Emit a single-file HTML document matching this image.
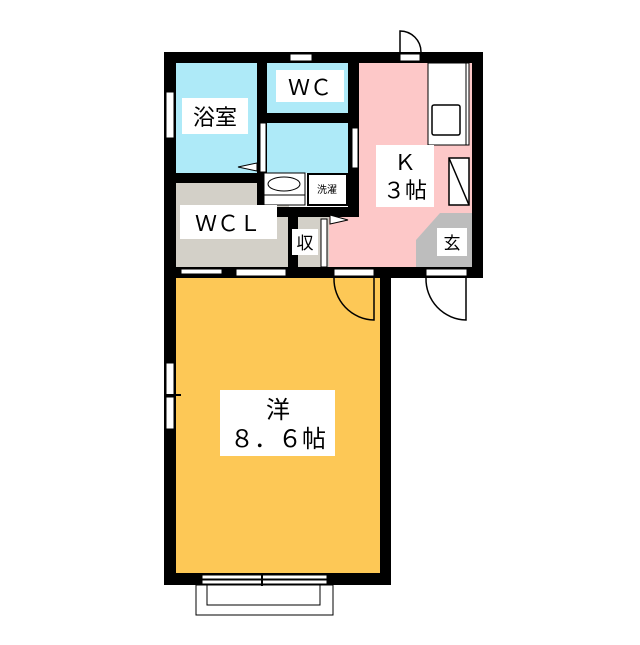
<!DOCTYPE html>
<html><head><meta charset="utf-8"><style>
html,body{margin:0;padding:0;background:#fff;}
svg text{font-family:"Liberation Sans","Noto Sans CJK JP",sans-serif;}
</style></head><body>
<svg width="640" height="640" viewBox="0 0 640 640" xmlns="http://www.w3.org/2000/svg">
<!-- fills -->
<rect x="176" y="63" width="82" height="111" fill="#aeeaf8"/>
<rect x="267" y="63" width="82" height="51" fill="#aeeaf8"/>
<rect x="267" y="123" width="82" height="50" fill="#aeeaf8"/>
<rect x="176" y="183" width="113" height="85" fill="#d3d0c8"/>
<rect x="298" y="217" width="32" height="51" fill="#d3d0c8"/>
<rect x="359" y="63" width="114" height="205" fill="#fdc8c8"/>
<rect x="329" y="215" width="32" height="53" fill="#fdc8c8"/>
<polygon points="416,240 440,213 473,213 473,268 416,268" fill="#bdbdbd"/>
<rect x="176" y="277" width="205" height="297" fill="#fdc856"/>
<!-- walls -->
<g fill="#000">
<rect x="164" y="52" width="319" height="11"/>
<rect x="164" y="52" width="12" height="533"/>
<rect x="472" y="52" width="11" height="226"/>
<rect x="164" y="267" width="319" height="11"/>
<rect x="380" y="267" width="11" height="318"/>
<rect x="164" y="573" width="227" height="12"/>
<rect x="257" y="63" width="10" height="154"/>
<rect x="176" y="173" width="91" height="10"/>
<rect x="348" y="63" width="11" height="154"/>
<rect x="267" y="113" width="82" height="10"/>
<rect x="257" y="207" width="102" height="10"/>
<rect x="288" y="207" width="10" height="61"/>
</g>
<!-- windows / openings -->
<g fill="#fff" stroke="#000" stroke-width="1">
<rect x="290" y="54" width="22" height="7"/>
<rect x="400" y="54" width="20" height="7"/>
<rect x="166" y="92" width="8" height="46"/>
<rect x="260" y="123" width="6" height="49"/>
<rect x="352" y="128" width="6" height="40"/>
<rect x="181" y="269" width="41" height="5"/>
<rect x="236" y="269" width="50" height="7"/>
<rect x="334" y="269" width="40" height="7"/>
<rect x="426" y="269" width="41" height="7"/>
<rect x="321" y="219" width="6" height="48"/>
<rect x="166" y="363" width="8" height="33"/>
<rect x="166" y="397" width="8" height="32"/>
<rect x="202" y="575" width="125" height="4"/>
<rect x="202" y="580" width="125" height="4"/>
<rect x="196" y="585" width="137" height="30"/>
<rect x="207" y="585" width="113" height="20"/>
</g>
<line x1="166" y1="395" x2="181" y2="395" stroke="#000" stroke-width="2"/>
<line x1="262" y1="573" x2="262" y2="586" stroke="#000" stroke-width="2"/>
<!-- doors -->
<g fill="none" stroke="#000" stroke-width="1.5">
<path d="M400,52 L400,31 A21,21 0 0 1 421,52"/>
<path d="M374,278 L374,320 A41,41 0 0 1 334,278"/>
<path d="M466,278 L466,320 A41,41 0 0 1 426,278"/>
</g>
<!-- door triangles -->
<polygon points="238,167 257,163 257,171" fill="#fff" stroke="#000"/>
<polygon points="348,220 330,215 330,224" fill="#fff" stroke="#000"/>
<!-- washroom fixtures -->
<rect x="264" y="173" width="41" height="32" fill="#fff" stroke="#000"/>
<ellipse cx="284" cy="184" rx="16" ry="7" fill="#fff" stroke="#000"/>
<line x1="264" y1="195" x2="305" y2="195" stroke="#000"/>
<rect x="308" y="174" width="39" height="31" fill="#fff" stroke="#000" stroke-width="2"/>
<text x="327" y="193" font-size="10" text-anchor="middle">洗濯</text>
<!-- kitchen -->
<rect x="428" y="63" width="41" height="82" fill="#fff" stroke="#000"/>
<line x1="466" y1="63" x2="466" y2="145" stroke="#000"/>
<rect x="432" y="105" width="28" height="30" fill="#fff" stroke="#000" stroke-width="1.5" rx="2"/>
<rect x="449" y="158" width="20" height="47" fill="#fff" stroke="#000" stroke-width="1.5"/>
<line x1="449" y1="158" x2="469" y2="205" stroke="#000" stroke-width="1.5"/>
<!-- labels -->
<rect x="182" y="98" width="66" height="36" fill="#fff"/>
<text x="215" y="125" font-size="22" text-anchor="middle">浴室</text>
<rect x="276" y="70" width="68" height="32" fill="#fff"/>
<text x="310" y="95" font-size="22" text-anchor="middle">ＷＣ</text>
<rect x="376" y="145" width="58" height="62" fill="#fff"/>
<text x="405" y="170" font-size="22" text-anchor="middle">Ｋ</text>
<text x="405" y="198" font-size="22" text-anchor="middle">３帖</text>
<rect x="180" y="205" width="97" height="34" fill="#fff"/>
<text x="228" y="231" font-size="22" text-anchor="middle">ＷＣＬ</text>
<rect x="292" y="229" width="26" height="26" fill="#fff"/>
<text x="305" y="249" font-size="17" text-anchor="middle">収</text>
<rect x="437" y="228" width="30" height="28" fill="#fff"/>
<text x="452" y="249" font-size="17" text-anchor="middle">玄</text>
<rect x="220" y="390" width="115" height="66" fill="#fff"/>
<text x="278" y="418" font-size="24" text-anchor="middle">洋</text>
<text x="278" y="447" font-size="24" text-anchor="middle">８．６帖</text>
</svg>
</body></html>
